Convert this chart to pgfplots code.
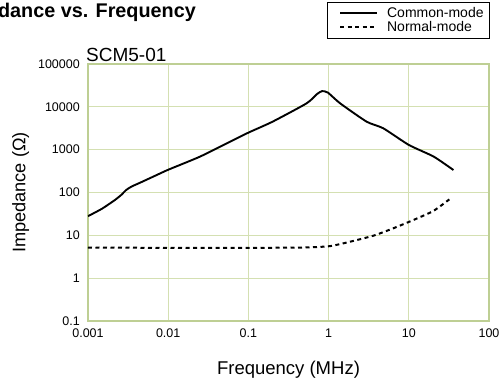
\documentclass[border=0pt]{standalone}
\usepackage{pgfplots}
\pgfplotsset{compat=1.18}
\usepackage{fontspec}
\setmainfont{Liberation Sans}
\definecolor{gridc}{RGB}{212,224,178}
\definecolor{axc}{RGB}{190,207,148}
\begin{document}
\begin{tikzpicture}[x=1bp,y=1bp]
\useasboundingbox (0,0) rectangle (502,379);
\clip (0,0) rectangle (502,379);
\node[anchor=base east, inner sep=0pt, font=\fontsize{19.8bp}{22bp}\selectfont\bfseries] at (196,362) {Impedance vs. Frequency};
\node[anchor=base west, inner sep=0pt, font=\fontsize{19bp}{21bp}\selectfont] at (86,318) {SCM5-01};
\begin{axis}[
  at={(88bp,58bp)}, anchor=south west, scale only axis,
  width=401bp, height=257bp,
  xmode=log, ymode=log,
  xmin=0.001, xmax=100, ymin=0.1, ymax=100000,
  xtick={0.001,0.01,0.1,1,10,100},
  xticklabels={0.001,0.01,0.1,1,10,100},
  ytick={0.1,1,10,100,1000,10000,100000},
  yticklabels={0.1,1,10,100,1000,10000,100000},
  minor xtick={}, minor ytick={},
  major tick length=0pt,
  tick style={draw=none},
  /pgf/number format/assume math mode=true,
  ticklabel style={font=\fontsize{12.5bp}{14bp}\selectfont, inner sep=0pt},
  yticklabel style={anchor=east, xshift=-8bp},
  xticklabel style={anchor=north, yshift=-8bp},
  grid=major,
  major grid style={gridc, line width=1.2bp},
  axis line style={axc, line width=2bp},
  xlabel={Frequency (MHz)},
  ylabel={Impedance (Ω)},
  xlabel style={at={(axis description cs:0.5,-0.210)}, anchor=base, font=\fontsize{18.5bp}{20bp}\selectfont, inner sep=0pt},
  ylabel style={at={(axis description cs:-0.156,0.5)}, anchor=base, font=\fontsize{18.2bp}{20bp}\selectfont, inner sep=0pt},
  legend style={at={(rel axis cs:1.0025,1.241)}, anchor=north east,
    draw=black, line width=0.8bp, inner xsep=6bp, inner ysep=5bp,
    font=\fontsize{14bp}{14bp}\selectfont,
    nodes={inner sep=0pt}, column sep=9bp, row sep=2.5bp},
  legend cell align=left,
  legend image code/.code={\path (0bp,0bp); \draw[#1] (6bp,0bp) -- (43bp,0bp);},
]
\addplot[black, line width=1.9bp, smooth, tension=0.35] coordinates {
  (0.001,28) (0.0015,42) (0.00217,67) (0.0026,88) (0.003,115) (0.0035,138)
  (0.00445,169) (0.007,250) (0.01,340) (0.025,690) (0.065,1680) (0.1,2500)
  (0.2,4500) (0.533,12100) (0.72,20000) (0.83,23300) (0.98,21500)
  (1.39,12100) (2.98,4500) (4.8,3160) (10,1290) (20.4,690) (36,335)
};
\addlegendentry{Common-mode}
\addplot[black, line width=2bp, dash pattern=on 4bp off 3.5bp, smooth, tension=0.35] coordinates {
  (0.001,5.2) (0.01,5.1) (0.1,5.1) (0.5,5.2) (1.04,5.6) (1.85,7.1)
  (3.61,9.8) (6.41,14.6) (11.4,22.8) (20.2,37) (32,69)
};
\addlegendentry{Normal-mode}
\end{axis}
\end{tikzpicture}
\end{document}
